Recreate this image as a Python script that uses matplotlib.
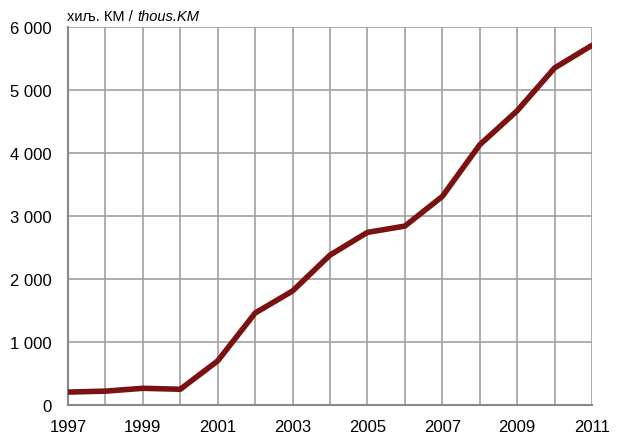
import matplotlib
matplotlib.use('Agg')
import matplotlib.pyplot as plt
from matplotlib import font_manager

years = list(range(1997, 2012))
values = [205, 220, 265, 250, 700, 1460, 1810, 2380, 2740, 2840, 3310, 4130, 4670, 5350, 5710]
yticks = [0, 1000, 2000, 3000, 4000, 5000, 6000]
ytick_labels = ['0', '1 000', '2 000', '3 000', '4 000', '5 000', '6 000']
xticks = list(range(1997, 2012, 2))

names = {f.name for f in font_manager.fontManager.ttflist}
font = 'Liberation Sans Narrow' if 'Liberation Sans Narrow' in names else 'Liberation Sans'
plt.rcParams['font.family'] = [font, 'DejaVu Sans']

fig = plt.figure(figsize=(6.17, 4.39), dpi=100)
ax = fig.add_axes([68 / 617, 1 - 406 / 439, (592 - 68) / 617, (406 - 28) / 439])

ax.plot(years, values, color='#7a1212', linewidth=4, solid_capstyle='round', zorder=3)

ax.set_xlim(1997, 2011)
ax.set_ylim(0, 6000)
ax.set_xticks(years, minor=True)
ax.set_xticks(xticks)
ax.set_yticks(yticks)
ax.set_yticklabels(ytick_labels)
ax.grid(True, which='both', axis='x', color='#a0a0a0', linewidth=1.2)
ax.grid(True, axis='y', color='#a0a0a0', linewidth=1.2)
ax.tick_params(which='both', length=0, labelsize=12, colors='black')
ax.tick_params(axis='x', pad=10)
ax.tick_params(axis='y', pad=12)
for s in ['top', 'right']:
    ax.spines[s].set_visible(False)
for s in ['left', 'bottom']:
    ax.spines[s].set_color('#888888')
    ax.spines[s].set_linewidth(1.5)

t1 = fig.text(67 / 617, 1 - 17 / 439, 'хиљ. КМ / ', fontsize=10.5, va='center', ha='left')
ax.annotate('thous.KM', xy=(1, 0.5), xycoords=t1, va='center', ha='left',
            fontsize=10.5, style='italic', annotation_clip=False)

fig.savefig('out.png', dpi=100)
